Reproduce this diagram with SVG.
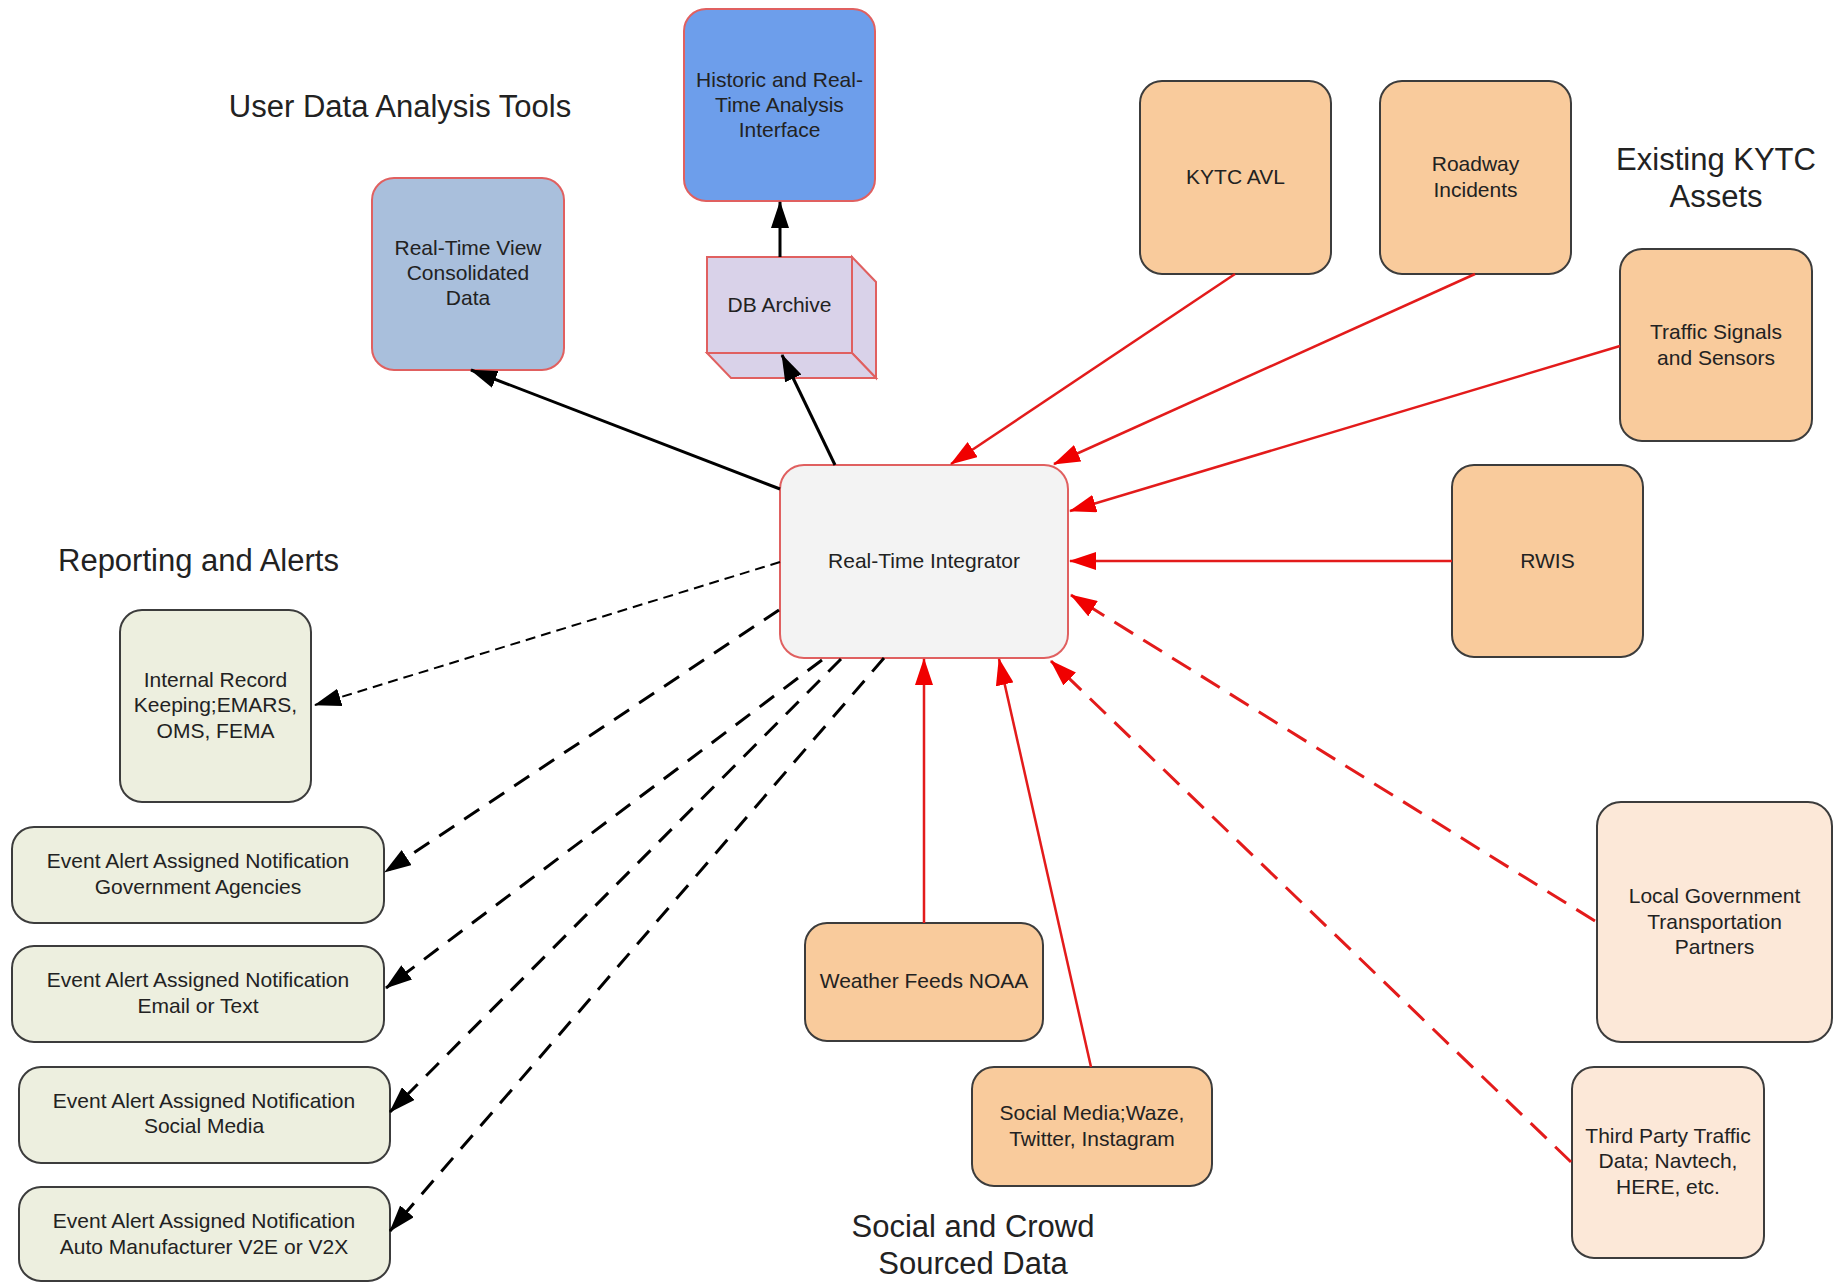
<svg xmlns="http://www.w3.org/2000/svg" width="1834" height="1283" viewBox="0 0 1834 1283">
<style>
.t{font-family:"Liberation Sans",Arial,sans-serif;font-size:21px;fill:#222;text-anchor:middle}
.h{font-family:"Liberation Sans",Arial,sans-serif;font-size:31px;fill:#222}
.dk{stroke:#3c3c3c;stroke-width:2}
.rd{stroke:#e06060;stroke-width:2}
.or{fill:#f9cb9c}
.lo{fill:#fce8d8}
.gr{fill:#edefdf}
.bk{stroke:#000;stroke-width:3;fill:none}
.rs{stroke:#e31b1b;stroke-width:2.5;fill:none}
.rdash{stroke:#e31b1b;stroke-width:3;fill:none;stroke-dasharray:22 12}
.bdash{stroke:#000;stroke-width:3;fill:none;stroke-dasharray:18 12}
.bthin{stroke:#000;stroke-width:2;fill:none;stroke-dasharray:10 6}
</style>
<defs>
<marker id="ab" viewBox="0 0 27 18" refX="26" refY="9" markerWidth="27" markerHeight="18" markerUnits="userSpaceOnUse" orient="auto"><path d="M0,0 L27,9 L0,18 z" fill="#000"/></marker>
<marker id="ar" viewBox="0 0 27 18" refX="26" refY="9" markerWidth="27" markerHeight="18" markerUnits="userSpaceOnUse" orient="auto"><path d="M0,0 L27,9 L0,18 z" fill="#f00000"/></marker>
</defs>
<rect width="1834" height="1283" fill="#fff"/>

<g id="titles">
<text class="h" x="400" y="117" text-anchor="middle">User Data Analysis Tools</text>
<text class="h" x="1716" y="170" text-anchor="middle">Existing KYTC</text>
<text class="h" x="1716" y="207" text-anchor="middle">Assets</text>
<text class="h" x="58" y="571">Reporting and Alerts</text>
<text class="h" x="973" y="1237" text-anchor="middle">Social and Crowd</text>
<text class="h" x="973" y="1274" text-anchor="middle">Sourced Data</text>
</g>

<g id="historic">
<rect x="684" y="9" width="191" height="192" rx="22" fill="#6d9eeb" class="rd"/>
<text class="t" x="779.5" y="87">Historic and Real-</text>
<text class="t" x="779.5" y="112">Time Analysis</text>
<text class="t" x="779.5" y="137">Interface</text>
</g>

<g id="realtime-view">
<rect x="372" y="178" width="192" height="192" rx="22" fill="#a9bfdc" class="rd"/>
<text class="t" x="468" y="255">Real-Time View</text>
<text class="t" x="468" y="280">Consolidated</text>
<text class="t" x="468" y="305">Data</text>
</g>

<g id="db-archive">
<path d="M852,257 L876,282 L876,378 L852,353 Z" fill="#d9d2e9" class="rd"/>
<path d="M707,353 L852,353 L876,378 L731,378 Z" fill="#d9d2e9" class="rd"/>
<rect x="707" y="257" width="145" height="96" fill="#d9d2e9" class="rd"/>
<text class="t" x="779.5" y="312">DB Archive</text>
</g>

<g id="integrator">
<rect x="780" y="465" width="288" height="193" rx="24" fill="#f3f3f3" class="rd"/>
<text class="t" x="924" y="568">Real-Time Integrator</text>
</g>

<g id="kytc-avl">
<rect x="1140" y="81" width="191" height="193" rx="22" class="or dk"/>
<text class="t" x="1235.5" y="184">KYTC AVL</text>
</g>

<g id="roadway">
<rect x="1380" y="81" width="191" height="193" rx="22" class="or dk"/>
<text class="t" x="1475.5" y="171">Roadway</text>
<text class="t" x="1475.5" y="197">Incidents</text>
</g>

<g id="traffic-signals">
<rect x="1620" y="249" width="192" height="192" rx="22" class="or dk"/>
<text class="t" x="1716" y="339">Traffic Signals</text>
<text class="t" x="1716" y="365">and Sensors</text>
</g>

<g id="rwis">
<rect x="1452" y="465" width="191" height="192" rx="22" class="or dk"/>
<text class="t" x="1547.5" y="568">RWIS</text>
</g>

<g id="local-gov">
<rect x="1597" y="802" width="235" height="240" rx="24" class="lo dk"/>
<text class="t" x="1714.5" y="903">Local Government</text>
<text class="t" x="1714.5" y="929">Transportation</text>
<text class="t" x="1714.5" y="954">Partners</text>
</g>

<g id="third-party">
<rect x="1572" y="1067" width="192" height="191" rx="22" class="lo dk"/>
<text class="t" x="1668" y="1143">Third Party Traffic</text>
<text class="t" x="1668" y="1168">Data; Navtech,</text>
<text class="t" x="1668" y="1194">HERE, etc.</text>
</g>

<g id="weather">
<rect x="805" y="923" width="238" height="118" rx="22" class="or dk"/>
<text class="t" x="924" y="988">Weather Feeds NOAA</text>
</g>

<g id="social-media-src">
<rect x="972" y="1067" width="240" height="119" rx="22" class="or dk"/>
<text class="t" x="1092" y="1120">Social Media;Waze,</text>
<text class="t" x="1092" y="1146">Twitter, Instagram</text>
</g>

<g id="internal-record">
<rect x="120" y="610" width="191" height="192" rx="22" class="gr dk"/>
<text class="t" x="215.5" y="687">Internal Record</text>
<text class="t" x="215.5" y="712">Keeping;EMARS,</text>
<text class="t" x="215.5" y="738">OMS, FEMA</text>
</g>

<g id="alert-gov">
<rect x="12" y="827" width="372" height="96" rx="22" class="gr dk"/>
<text class="t" x="198" y="868">Event Alert Assigned Notification</text>
<text class="t" x="198" y="894">Government Agencies</text>
</g>

<g id="alert-email">
<rect x="12" y="946" width="372" height="96" rx="22" class="gr dk"/>
<text class="t" x="198" y="987">Event Alert Assigned Notification</text>
<text class="t" x="198" y="1013">Email or Text</text>
</g>

<g id="alert-social">
<rect x="19" y="1067" width="371" height="96" rx="22" class="gr dk"/>
<text class="t" x="204" y="1108">Event Alert Assigned Notification</text>
<text class="t" x="204" y="1133">Social Media</text>
</g>

<g id="alert-auto">
<rect x="19" y="1187" width="371" height="94" rx="22" class="gr dk"/>
<text class="t" x="204" y="1228">Event Alert Assigned Notification</text>
<text class="t" x="204" y="1254">Auto Manufacturer V2E or V2X</text>
</g>

<g id="connectors">
<path class="bk" d="M780,489 L471,370" marker-end="url(#ab)"/>
<path class="bk" d="M835,465 L782,355" marker-end="url(#ab)"/>
<path class="bk" d="M780,257 L780,202" marker-end="url(#ab)"/>
<path class="rs" d="M1235,274 L951,464" marker-end="url(#ar)"/>
<path class="rs" d="M1475,274 L1054,464" marker-end="url(#ar)"/>
<path class="rs" d="M1620,346 L1070,511" marker-end="url(#ar)"/>
<path class="rs" d="M1452,561 L1070,561" stroke-width="3.5" marker-end="url(#ar)"/>
<path class="rs" d="M924,923 L924,659" marker-end="url(#ar)"/>
<path class="rs" d="M1091,1067 L999,659" marker-end="url(#ar)"/>
<path class="rdash" d="M1595,921 L1071,595" marker-end="url(#ar)"/>
<path class="rdash" d="M1571,1162 L1051,661" marker-end="url(#ar)"/>
<path class="bthin" d="M780,562 L315,705" marker-end="url(#ab)"/>
<path class="bdash" d="M779,610 L385,872" marker-end="url(#ab)"/>
<path class="bdash" d="M822,660 L386,988" marker-end="url(#ab)"/>
<path class="bdash" d="M841,659 L390,1112" marker-end="url(#ab)"/>
<path class="bdash" d="M884,658 L390,1231" marker-end="url(#ab)"/>
</g>
</svg>
